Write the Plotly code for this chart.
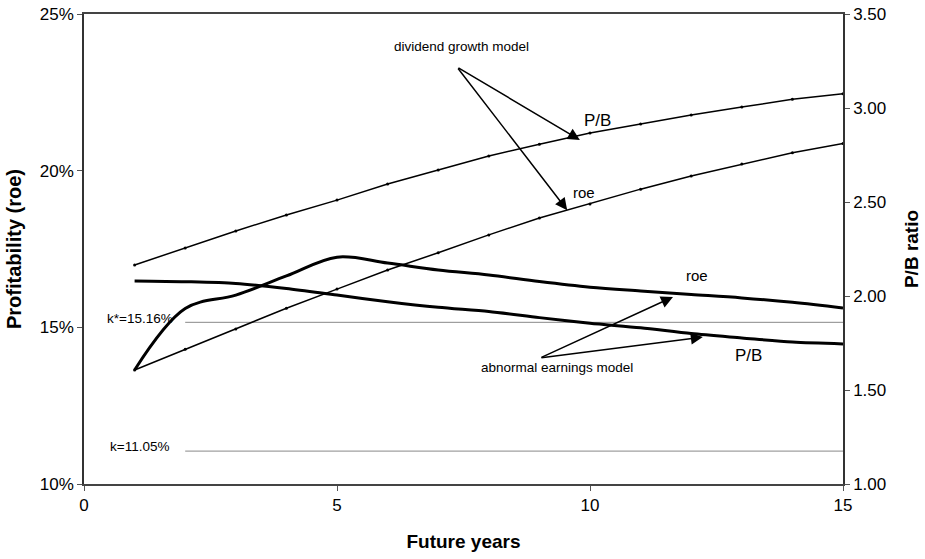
import plotly.graph_objects as go

years = list(range(1, 16))
# dividend growth model
dg_roe = [0.1364, 0.1430, 0.1495, 0.1561, 0.1622, 0.1683, 0.1738, 0.1795, 0.1849, 0.1894,
          0.1941, 0.1983, 0.2021, 0.2057, 0.2087]
dg_pb = [2.165, 2.255, 2.346, 2.431, 2.510, 2.596, 2.670, 2.745, 2.807, 2.867,
         2.915, 2.963, 3.005, 3.046, 3.076]
# abnormal earnings model
ae_roe = [0.1364, 0.1560, 0.1603, 0.1664, 0.1724, 0.1705, 0.1683, 0.1667, 0.1646, 0.1628,
          0.1616, 0.1605, 0.1594, 0.1580, 0.1562]
ae_pb = [2.080, 2.076, 2.067, 2.040, 2.005, 1.970, 1.940, 1.917, 1.885, 1.855,
         1.831, 1.800, 1.777, 1.755, 1.745]
k_star = 0.1516
k = 0.1105
k_years = [2, 15]

x_ticks = [0, 5, 10, 15]
left_ticks = [0.10, 0.15, 0.20, 0.25]
right_ticks = [1.00, 1.50, 2.00, 2.50, 3.00, 3.50]

FONT = "Liberation Sans, Arial, sans-serif"

fig = go.Figure()
fig.add_trace(go.Scatter(x=k_years, y=[k_star, k_star], mode="lines",
                         line=dict(color="#888888", width=1), showlegend=False))
fig.add_trace(go.Scatter(x=k_years, y=[k, k], mode="lines",
                         line=dict(color="#888888", width=1), showlegend=False))
fig.add_trace(go.Scatter(x=years, y=dg_roe, mode="lines+markers",
                         line=dict(color="black", width=1.5),
                         marker=dict(size=3, color="black"), showlegend=False))
fig.add_trace(go.Scatter(x=years, y=ae_roe, mode="lines",
                         line=dict(color="black", width=3, shape="spline", smoothing=1.0),
                         showlegend=False))
fig.add_trace(go.Scatter(x=years, y=dg_pb, mode="lines+markers", yaxis="y2",
                         line=dict(color="black", width=1.5),
                         marker=dict(size=3, color="black"), showlegend=False))
fig.add_trace(go.Scatter(x=years, y=ae_pb, mode="lines", yaxis="y2",
                         line=dict(color="black", width=3, shape="spline", smoothing=0.8),
                         showlegend=False))

def arrow(x, y, ax, ay):
    fig.add_annotation(x=x, y=y, ax=ax, ay=ay, xref="x", yref="y", axref="x", ayref="y",
                       text="", showarrow=True, arrowhead=2, arrowsize=1.6, arrowwidth=1.5,
                       arrowcolor="black", standoff=0, startstandoff=0)

arrow(9.80, 0.2098, 7.37, 0.2331)
arrow(9.55, 0.1874, 7.37, 0.2331)
arrow(11.64, 0.1597, 9.01, 0.1402)
arrow(12.23, 0.1469, 9.01, 0.1402)

def label(text, x, y, size=13, xanchor="center"):
    fig.add_annotation(x=x, y=y, xref="paper", yref="paper", text=text, showarrow=False,
                       xanchor=xanchor, yanchor="middle",
                       font=dict(family=FONT, size=size, color="black"))

label("dividend growth model", 0.498, 0.930, 13.5)
label("P/B", 0.676, 0.774, 17)
label("roe", 0.659, 0.621, 15)
label("abnormal earnings model", 0.623, 0.247, 13.5)
label("roe", 0.808, 0.443, 15)
label("P/B", 0.875, 0.274, 17)
label("k*=15.16%", 0.028, 0.353, 13.5, "left")
label("k=11.05%", 0.031, 0.079, 13.5, "left")

fig.update_layout(
    width=925, height=559,
    margin=dict(l=84, r=82, t=14, b=75, autoexpand=False),
    plot_bgcolor="white", paper_bgcolor="white",
    font=dict(family=FONT, size=17, color="black"),
    xaxis=dict(range=[0, 15], tickvals=x_ticks, ticks="outside", ticklen=5,
               tickcolor="#555", showgrid=False, zeroline=False,
               showline=True, linecolor="#444", linewidth=2, mirror=True,
               title=dict(text="<b>Future years</b>", font=dict(size=19), standoff=20),
               tickfont=dict(size=17)),
    yaxis=dict(range=[0.10, 0.25], tickvals=left_ticks, tickformat=".0%",
               ticks="outside", ticklen=5, tickcolor="#555", showgrid=False, zeroline=False,
               showline=True, linecolor="#333", linewidth=1.5,
               title=dict(text="<b>Profitability (roe)</b>", font=dict(size=20), standoff=13),
               tickfont=dict(size=17)),
    yaxis2=dict(range=[1.0, 3.5], tickvals=right_ticks, tickformat=".2f",
                overlaying="y", side="right", ticks="outside", ticklen=5, tickcolor="#555",
                showgrid=False, zeroline=False, showline=True, linecolor="#333", linewidth=1.5,
                title=dict(text="<b>P/B ratio</b>", font=dict(size=19), standoff=19),
                tickfont=dict(size=17)),
)

fig.write_html("out.html", post_script="document.body.style.margin='0px';",
               config={"displayModeBar": False})
